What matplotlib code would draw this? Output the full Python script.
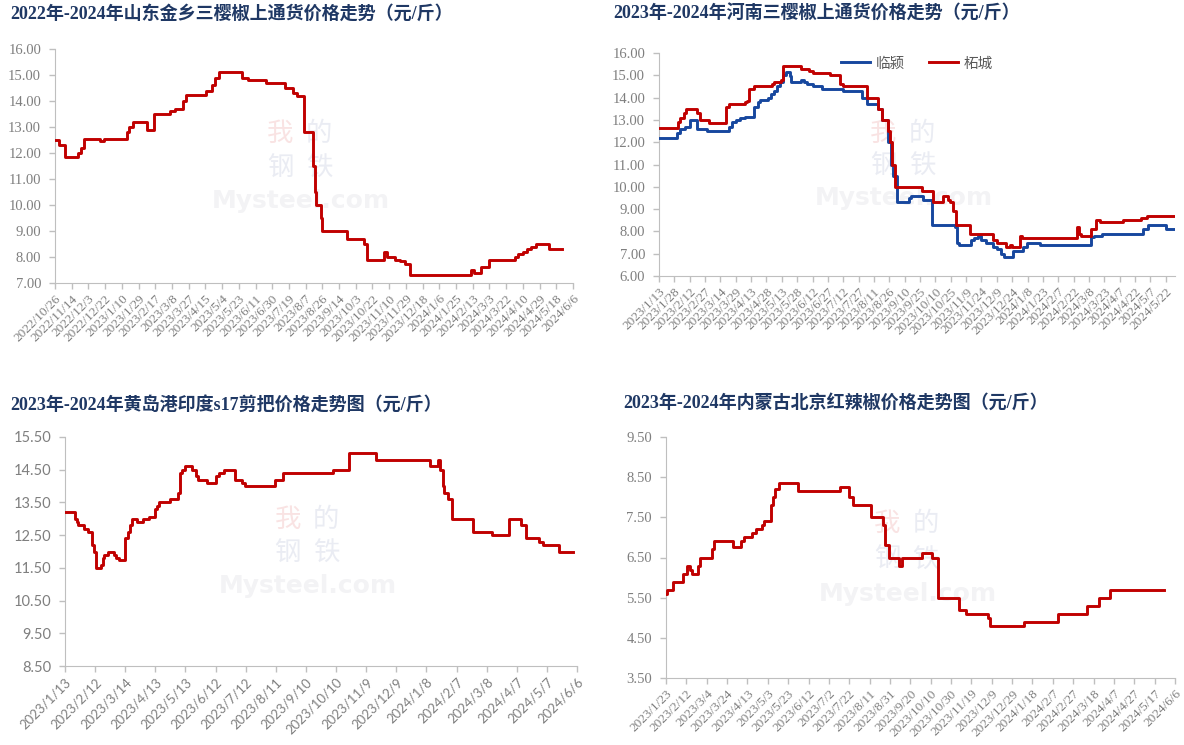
import numpy as np
import pandas as pd
import matplotlib
matplotlib.use('Agg')
import matplotlib.pyplot as plt

RED = '#c00000'
BLUE = '#17479e'
TXT = '#7f7f7f'
SPINE = '#bfbfbf'
TITLE = '#1f3864'
SERIF = 'Liberation Serif'
SANS = 'Lato'

# 山东金乡三樱椒上通货 (2022/10/26 - 2024/6/6)
jx_dates = ['2022-10-26', '2022-10-31', '2022-11-06', '2022-11-21', '2022-11-25', '2022-11-28',
            '2022-12-16', '2022-12-21', '2023-01-16', '2023-01-18', '2023-01-23', '2023-02-08',
            '2023-02-16', '2023-03-06', '2023-03-12', '2023-03-20', '2023-03-24', '2023-04-16',
            '2023-04-23', '2023-04-26', '2023-04-30', '2023-05-27', '2023-06-03', '2023-06-23',
            '2023-07-15', '2023-07-24', '2023-07-28', '2023-08-05', '2023-08-15', '2023-08-18',
            '2023-08-19', '2023-08-24', '2023-08-26', '2023-09-23', '2023-10-12', '2023-10-16',
            '2023-11-04', '2023-11-08', '2023-11-17', '2023-11-22', '2023-11-28', '2023-12-04',
            '2024-02-11', '2024-02-14', '2024-02-22', '2024-03-02', '2024-04-01', '2024-04-05',
            '2024-04-10', '2024-04-15', '2024-04-19', '2024-04-25', '2024-05-10', '2024-05-24']
jx_price = [12.5, 12.3, 11.85, 12.0, 12.2, 12.55,
            12.45, 12.55, 12.8, 13.0, 13.2, 12.9,
            13.5, 13.6, 13.7, 14.0, 14.25, 14.4,
            14.6, 14.9, 15.1, 14.9, 14.8, 14.7,
            14.5, 14.3, 14.2, 12.8, 11.5, 10.5,
            10.0, 9.5, 9.0, 8.7, 8.5, 7.9,
            8.2, 8.0, 7.9, 7.85, 7.75, 7.3,
            7.5, 7.4, 7.6, 7.9, 8.0, 8.1,
            8.2, 8.3, 8.4, 8.5, 8.3, 8.3]

# 河南三樱椒上通货: 临颍 / 柘城
ly_dates = ['2023-01-13', '2023-01-31', '2023-02-03', '2023-02-07', '2023-02-12', '2023-02-19',
            '2023-03-01', '2023-03-22', '2023-03-25', '2023-03-29', '2023-04-02', '2023-04-07',
            '2023-04-16', '2023-04-20', '2023-04-22', '2023-04-29', '2023-05-02', '2023-05-05',
            '2023-05-08', '2023-05-11', '2023-05-14', '2023-05-17', '2023-05-21', '2023-05-22',
            '2023-06-01', '2023-06-04', '2023-06-07', '2023-06-12', '2023-06-21', '2023-07-12',
            '2023-07-30', '2023-08-04', '2023-08-15', '2023-08-19', '2023-08-25', '2023-08-28',
            '2023-08-30', '2023-09-02', '2023-09-14', '2023-09-16', '2023-09-28', '2023-10-07',
            '2023-10-29', '2023-10-31', '2023-11-02', '2023-11-14', '2023-11-17', '2023-11-21',
            '2023-11-24', '2023-11-28', '2023-12-05', '2023-12-09', '2023-12-13', '2023-12-16',
            '2023-12-25', '2024-01-04', '2024-01-07', '2024-01-20', '2024-03-10', '2024-03-13',
            '2024-03-21', '2024-04-30', '2024-05-05', '2024-05-22', '2024-05-31']
ly_price = [12.2, 12.4, 12.6, 12.7, 13.0, 12.6,
            12.5, 12.7, 12.9, 13.0, 13.1, 13.15,
            13.6, 13.8, 13.9, 14.0, 14.15, 14.3,
            14.5, 14.7, 15.0, 15.15, 14.95, 14.7,
            14.8, 14.7, 14.6, 14.5, 14.4, 14.3,
            14.0, 13.7, 13.5, 13.0, 12.0, 11.0,
            10.5, 9.3, 9.5, 9.6, 9.4, 8.3,
            8.2, 7.5, 7.4, 7.6, 7.7, 7.8,
            7.6, 7.5, 7.3, 7.2, 7.0, 6.85,
            7.1, 7.3, 7.5, 7.4, 7.75, 7.8,
            7.9, 8.1, 8.3, 8.1, 8.1]
zc_dates = ['2023-01-13', '2023-02-01', '2023-02-03', '2023-02-06', '2023-02-08', '2023-02-19',
            '2023-02-22', '2023-03-03', '2023-03-19', '2023-03-22', '2023-04-07', '2023-04-09',
            '2023-04-11', '2023-04-16', '2023-05-03', '2023-05-05', '2023-05-12', '2023-05-14',
            '2023-06-01', '2023-06-09', '2023-06-12', '2023-06-29', '2023-07-09', '2023-07-12',
            '2023-08-04', '2023-08-15', '2023-08-19', '2023-08-25', '2023-08-27', '2023-08-29',
            '2023-09-01', '2023-09-27', '2023-10-08', '2023-10-17', '2023-10-22', '2023-10-24',
            '2023-10-27', '2023-10-30', '2023-11-13', '2023-12-05', '2023-12-09', '2023-12-18',
            '2023-12-22', '2023-12-24', '2024-01-01', '2024-01-03', '2024-02-25', '2024-02-27',
            '2024-02-29', '2024-03-10', '2024-03-15', '2024-03-19', '2024-04-10', '2024-04-28',
            '2024-05-04', '2024-05-31']
zc_price = [12.65, 12.9, 13.1, 13.3, 13.5, 13.3,
            13.0, 12.85, 13.6, 13.7, 13.8, 13.85,
            14.4, 14.5, 14.6, 14.7, 14.8, 15.4,
            15.3, 15.2, 15.1, 15.0, 14.6, 14.5,
            14.0, 13.5, 13.0, 12.5, 12.0, 11.0,
            10.0, 9.8, 9.3, 9.6, 9.4, 9.3,
            8.9, 8.3, 7.9, 7.6, 7.5, 7.3,
            7.4, 7.3, 7.8, 7.7, 8.2, 7.9,
            7.8, 8.1, 8.5, 8.4, 8.5, 8.6,
            8.7, 8.7]

# 黄岛港印度s17剪把
s17_dates = ['2023-01-13', '2023-01-23', '2023-01-25', '2023-01-26', '2023-02-01', '2023-02-05',
             '2023-02-09', '2023-02-11', '2023-02-13', '2023-02-18', '2023-02-20', '2023-02-21',
             '2023-02-25', '2023-03-03', '2023-03-05', '2023-03-08', '2023-03-14', '2023-03-17',
             '2023-03-19', '2023-03-21', '2023-03-26', '2023-04-01', '2023-04-07', '2023-04-13',
             '2023-04-15', '2023-04-17', '2023-04-28', '2023-05-06', '2023-05-08', '2023-05-10',
             '2023-05-13', '2023-05-20', '2023-05-23', '2023-05-25', '2023-06-03', '2023-06-12',
             '2023-06-15', '2023-06-20', '2023-07-01', '2023-07-08', '2023-07-11', '2023-08-10',
             '2023-08-18', '2023-10-07', '2023-10-23', '2023-11-19', '2024-01-12', '2024-01-20',
             '2024-01-22', '2024-01-25', '2024-01-26', '2024-01-30', '2024-02-02', '2024-02-23',
             '2024-03-13', '2024-03-30', '2024-04-11', '2024-04-16', '2024-04-29', '2024-05-03',
             '2024-05-19', '2024-06-02']
s17_price = [13.2, 13.0, 12.9, 12.8, 12.7, 12.6,
             12.2, 12.0, 11.5, 11.6, 11.8, 11.9,
             12.0, 11.9, 11.8, 11.75, 12.4, 12.6,
             12.8, 13.0, 12.9, 13.0, 13.05, 13.3,
             13.4, 13.5, 13.6, 13.8, 14.4, 14.5,
             14.6, 14.5, 14.3, 14.2, 14.1, 14.3,
             14.4, 14.5, 14.2, 14.1, 14.0, 14.2,
             14.4, 14.5, 15.0, 14.8, 14.6, 14.8,
             14.5, 14.0, 13.8, 13.6, 13.0, 12.6,
             12.5, 13.0, 12.8, 12.4, 12.3, 12.2,
             12.0, 12.0]

# 内蒙古北京红辣椒
nm_dates = ['2023-01-23', '2023-01-24', '2023-01-30', '2023-02-09', '2023-02-13', '2023-02-16',
            '2023-02-18', '2023-02-23', '2023-02-25', '2023-03-09', '2023-03-11', '2023-03-30',
            '2023-04-07', '2023-04-10', '2023-04-17', '2023-04-21', '2023-04-27', '2023-04-29',
            '2023-05-06', '2023-05-08', '2023-05-10', '2023-05-14', '2023-06-02', '2023-07-13',
            '2023-07-22', '2023-07-26', '2023-08-12', '2023-08-24', '2023-08-26', '2023-08-30',
            '2023-09-09', '2023-09-12', '2023-10-01', '2023-10-11', '2023-10-17', '2023-11-07',
            '2023-11-14', '2023-12-05', '2023-12-07', '2024-01-10', '2024-02-12', '2024-03-12',
            '2024-03-23', '2024-04-03', '2024-05-26']
nm_price = [5.6, 5.7, 5.9, 6.1, 6.3, 6.2,
            6.1, 6.3, 6.5, 6.7, 6.9, 6.75,
            6.9, 7.0, 7.1, 7.2, 7.3, 7.4,
            7.8, 8.0, 8.2, 8.35, 8.15, 8.25,
            8.0, 7.8, 7.5, 7.3, 6.8, 6.5,
            6.3, 6.5, 6.6, 6.5, 5.5, 5.2,
            5.1, 5.0, 4.8, 4.9, 5.1, 5.3,
            5.5, 5.7, 5.7]


def style_axis(ax, start, end, step, ylo, yhi, font):
    ticks = pd.date_range(start, end, freq=f'{step}D')
    ax.set_xlim(pd.Timestamp(start), pd.Timestamp(end))
    ax.set_xticks(ticks)
    ax.set_xticklabels([f'{d.year}/{d.month}/{d.day}' for d in ticks], rotation=45,
                       ha='right', va='top', rotation_mode='anchor',
                       family=font, fontsize=9.5, color=TXT)
    yt = np.arange(ylo, yhi + 0.001, 1.0)
    ax.set_ylim(ylo, yhi)
    ax.set_yticks(yt)
    ax.set_yticklabels([f'{v:.2f}' for v in yt], family=font, fontsize=10.5, color=TXT)
    for s in ['top', 'right']:
        ax.spines[s].set_visible(False)
    for s in ['left', 'bottom']:
        ax.spines[s].set_color(SPINE)
    ax.tick_params(axis='both', direction='out', length=4, color=SPINE, width=1.0)
    ax.tick_params(axis='x', pad=3)
    ax.tick_params(axis='y', pad=6)


def watermark(ax):
    # faint "我的钢铁 / Mysteel.com" stamp
    kw = dict(transform=ax.transAxes, fontsize=19, family='Noto Sans CJK SC',
              ha='center', va='center', zorder=0)
    ax.text(0.435, 0.64, '我', color='#f9e3e3', **kw)
    ax.text(0.51, 0.64, '的', color='#eaecf3', **kw)
    ax.text(0.435, 0.49, '钢', color='#eaecf3', **kw)
    ax.text(0.51, 0.49, '铁', color='#eaecf3', **kw)
    ax.text(0.475, 0.35, 'Mysteel.com', transform=ax.transAxes, fontsize=18, color='#f3f3f5',
            family='DejaVu Sans', fontweight='bold', ha='center', va='center', zorder=0)


def line(ax, dates, vals, color, label=None):
    ax.plot(pd.to_datetime(dates), vals, drawstyle='steps-post', color=color,
            lw=2.1, label=label, zorder=3)


fig = plt.figure(figsize=(11.84, 7.45), dpi=100)
W, H = 1184, 745


def add_axes(l, r, t, b):
    return fig.add_axes([l / W, 1 - b / H, (r - l) / W, (b - t) / H])


title_kw = dict(family=[SERIF, 'Noto Sans CJK SC'], fontweight='bold', fontsize=13,
                color=TITLE, ha='left', va='center')

# 山东金乡
ax1 = add_axes(55, 573, 49, 283)
line(ax1, jx_dates, jx_price, RED)
style_axis(ax1, '2022-10-26', '2024-06-06', 19, 7, 16, SERIF)
watermark(ax1)
fig.text(10 / W, 1 - 14 / H, '2022年-2024年山东金乡三樱椒上通货价格走势（元/斤）', **title_kw)

# 河南
ax2 = add_axes(659, 1175, 53, 276)
line(ax2, ly_dates, ly_price, BLUE, '临颍')
line(ax2, zc_dates, zc_price, RED, '柘城')
style_axis(ax2, '2023-01-13', '2024-05-31', 15, 6, 16, SERIF)
watermark(ax2)
leg = ax2.legend(loc='upper center', bbox_to_anchor=(0.5, 1.04), ncol=2, frameon=False,
                 handlelength=2.0, handletextpad=0.4, columnspacing=1.6,
                 prop={'family': [SERIF, 'Noto Sans CJK SC'], 'size': 10.5})
for t in leg.get_texts():
    t.set_color('#595959')
fig.text(613 / W, 1 - 14 / H, '2023年-2024年河南三樱椒上通货价格走势（元/斤）', **title_kw)

# 黄岛港
ax3 = add_axes(65, 577, 437, 666)
line(ax3, s17_dates, s17_price, RED)
style_axis(ax3, '2023-01-13', '2024-06-06', 30, 8.5, 15.5, SANS)
watermark(ax3)
fig.text(10 / W, 1 - 405 / H, '2023年-2024年黄岛港印度s17剪把价格走势图（元/斤）', **title_kw)

# 内蒙古
ax4 = add_axes(666, 1175, 437, 678)
line(ax4, nm_dates, nm_price, RED)
style_axis(ax4, '2023-01-23', '2024-06-06', 20, 3.5, 9.5, SERIF)
watermark(ax4)
fig.text(623 / W, 1 - 403 / H, '2023年-2024年内蒙古北京红辣椒价格走势图（元/斤）', **title_kw)

fig.savefig('out.png', dpi=100)
